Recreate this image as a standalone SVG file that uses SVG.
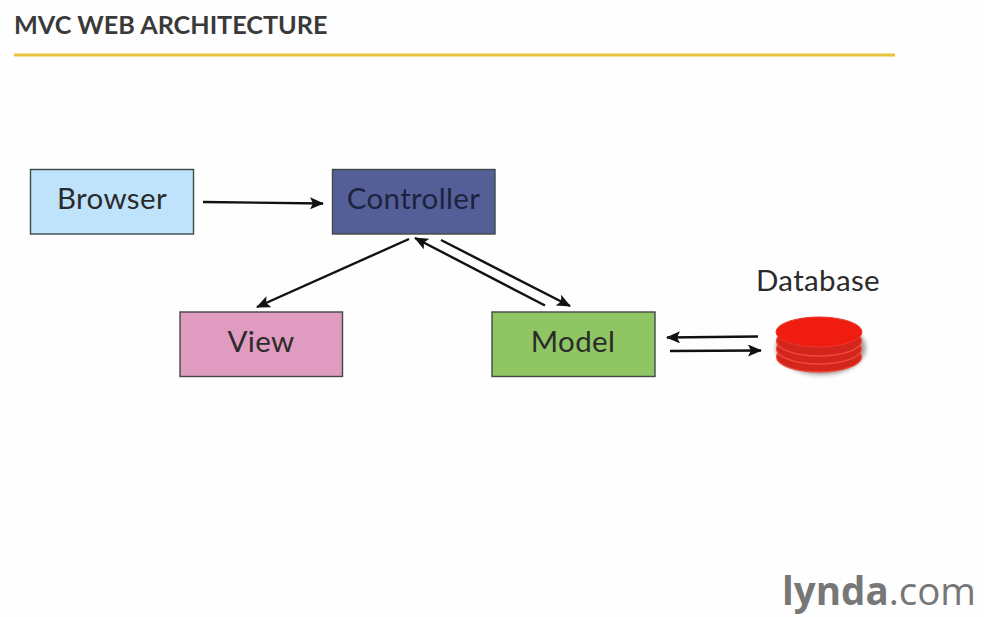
<svg xmlns="http://www.w3.org/2000/svg" width="984" height="617" viewBox="0 0 984 617">
<style>
.box{stroke:#3f4a48;stroke-width:1.4}
.lbl{font-family:"Lato","Noto Sans",sans-serif;font-size:29.500px;letter-spacing:.35px;fill:#2b2b2b;text-anchor:middle}
.c{stroke:#111;stroke-width:2.4;fill:none;marker-end:url(#a)}
.d{fill:#d3251b;stroke:#f04a38;stroke-width:1.300}
</style>
<defs>
<marker id="a" viewBox="0 0 14 12" refX="13" refY="6" markerWidth="14" markerHeight="12" markerUnits="userSpaceOnUse" orient="auto"><path d="M0 0L14 6L0 12L3 6Z" fill="#111"/></marker>
<filter id="s" x="-20%" y="-20%" width="140%" height="140%"><feGaussianBlur stdDeviation="2"/></filter>
</defs>
<rect width="984" height="617" fill="#fefefe"/>
<text id="title" x="14" y="34" font-family="Lato,'Noto Sans',sans-serif" font-size="25.200" font-weight="700" fill="#3a3a3a">MVC WEB ARCHITECTURE</text>
<rect x="14" y="53.500" width="881" height="3" fill="#e8c13f"/>
<g id="browser"><rect class="box" x="30.500" y="169.500" width="163" height="64.500" fill="#bfe3fb"/><text class="lbl" x="112" y="209">Browser</text></g>
<g id="controller"><rect class="box" x="332.500" y="169.500" width="162.500" height="64.500" fill="#545f97"/><text class="lbl" x="413.500" y="209" style="fill:#1c2340">Controller</text></g>
<g id="view"><rect class="box" x="180" y="312" width="162.500" height="64.500" fill="#e09cc0"/><text class="lbl" x="261" y="352">View</text></g>
<g id="model"><rect class="box" x="492" y="312" width="163" height="64.500" fill="#8fc562"/><text class="lbl" x="573" y="352">Model</text></g>
<g id="database">
<text class="lbl" x="818" y="291">Database</text>
<ellipse cx="821" cy="348" rx="45" ry="27" fill="#555" opacity=".55" filter="url(#s)"/>
<ellipse class="d" cx="819" cy="357" rx="42.500" ry="15"/>
<ellipse class="d" cx="819" cy="349" rx="42.500" ry="15"/>
<ellipse class="d" cx="819" cy="341" rx="42.500" ry="15"/>
<ellipse cx="819" cy="332" rx="43" ry="15" fill="#f01c10" stroke="#e8392b" stroke-width="1"/>
</g>
<g id="connectors">
<path class="c" d="M409 239L257 307"/>
<path class="c" d="M203 202L323 203.500"/>
<path class="c" d="M545 305.500L415 238"/>
<path class="c" d="M441 240L570 306"/>
<path class="c" d="M758 336.500L667 337.500"/>
<path class="c" d="M670 351L761 350.500"/>
</g>
<text id="logo" x="976" y="605" text-anchor="end" font-family="'Open Sans','Noto Sans',sans-serif" font-size="38.500" fill="#777"><tspan font-weight="700">lynda</tspan>.com</text>
</svg>
